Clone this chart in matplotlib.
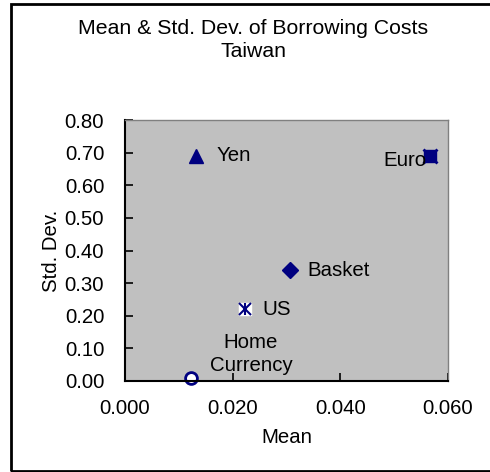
import matplotlib
matplotlib.use("Agg")
import matplotlib.pyplot as plt
from matplotlib.patches import Rectangle

plt.rcParams['font.family'] = ['Liberation Sans', 'DejaVu Sans']

# Mean and standard deviation of borrowing costs by currency
currencies = ["Yen", "Euro", "Basket", "US", "Home\nCurrency"]
means = [0.0131, 0.0567, 0.0306, 0.0222, 0.0123]
stds = [0.69, 0.69, 0.34, 0.22, 0.01]

x_ticks = [0.000, 0.020, 0.040, 0.060]
y_ticks = [0.00, 0.10, 0.20, 0.30, 0.40, 0.50, 0.60, 0.70, 0.80]

navy = "#000080"
fs = 14.7

fig = plt.figure(figsize=(4.9, 4.72), dpi=100)
fig.patch.set_facecolor("white")
fig.add_artist(Rectangle((11 / 490, 1.5 / 472), 1.0, (472 - 5.5) / 472,
                         transform=fig.transFigure, fill=False,
                         edgecolor="black", linewidth=2.0))

ax = fig.add_axes([125 / 490, (472 - 381) / 472, (448 - 125) / 490, (381 - 120) / 472])
ax.set_facecolor("#C0C0C0")
ax.set_xlim(0, 0.06)
ax.set_ylim(0, 0.8)

# Yen
ax.plot(means[0], stds[0], marker="^", ms=10, color=navy, ls="none", clip_on=False)
# Euro: square overlaid with a cross
ax.plot(means[1], stds[1], marker="s", ms=8.5, color=navy, ls="none", clip_on=False)
ax.plot(means[1], stds[1], marker="x", ms=10.5, mew=2, color=navy, ls="none", clip_on=False)
# Basket
ax.plot(means[2], stds[2], marker="D", ms=8.5, color=navy, ls="none", clip_on=False)
# US: asterisk on a white square
ax.plot(means[3], stds[3], marker="s", ms=9, color="white", ls="none", clip_on=False)
ax.plot(means[3], stds[3], marker="x", ms=8, mew=1.5, color=navy, ls="none", clip_on=False)
ax.plot(means[3], stds[3], marker="|", ms=9, mew=1.5, color=navy, ls="none", clip_on=False)
# Home currency
ax.plot(means[4], stds[4], marker="o", ms=8.5, mfc="white", mec=navy, mew=2,
        ls="none", clip_on=False)

ax.annotate(currencies[0], (means[0], stds[0]), xytext=(15, 0), textcoords="offset points",
            ha="left", va="center", fontsize=fs)
ax.annotate(currencies[1], (means[1], stds[1]), xytext=(-3, -3), textcoords="offset points",
            ha="right", va="center", fontsize=fs)
ax.annotate(currencies[2], (means[2], stds[2]), xytext=(13, 0), textcoords="offset points",
            ha="left", va="center", fontsize=fs)
ax.annotate(currencies[3], (means[3], stds[3]), xytext=(13, 0), textcoords="offset points",
            ha="left", va="center", fontsize=fs)
ax.annotate(currencies[4], (means[4], stds[4]), xytext=(43, 17), textcoords="offset points",
            ha="center", va="center", fontsize=fs, linespacing=1.3)

ax.set_xticks(x_ticks)
ax.set_xticklabels([f"{v:.3f}" for v in x_ticks])
ax.set_yticks(y_ticks)
ax.set_yticklabels([f"{v:.2f}" for v in y_ticks])
ax.tick_params(direction="in", length=6, width=1.2, labelsize=fs, color="black")
ax.tick_params(axis="y", pad=15)
ax.tick_params(axis="x", pad=13)

for s in ("left", "bottom"):
    ax.spines[s].set_color("black")
    ax.spines[s].set_linewidth(1.5)
for s in ("top", "right"):
    ax.spines[s].set_color("#808080")
    ax.spines[s].set_linewidth(1.0)

ax.set_xlabel("Mean", fontsize=fs, labelpad=7)
ax.set_ylabel("Std. Dev.", fontsize=fs, labelpad=3)

fig.text(253 / 490, 1 - 40 / 472, "Mean & Std. Dev. of Borrowing Costs\nTaiwan",
         ha="center", va="center", fontsize=fs + 0.6, linespacing=1.25)

fig.savefig("out.png", dpi=100)
